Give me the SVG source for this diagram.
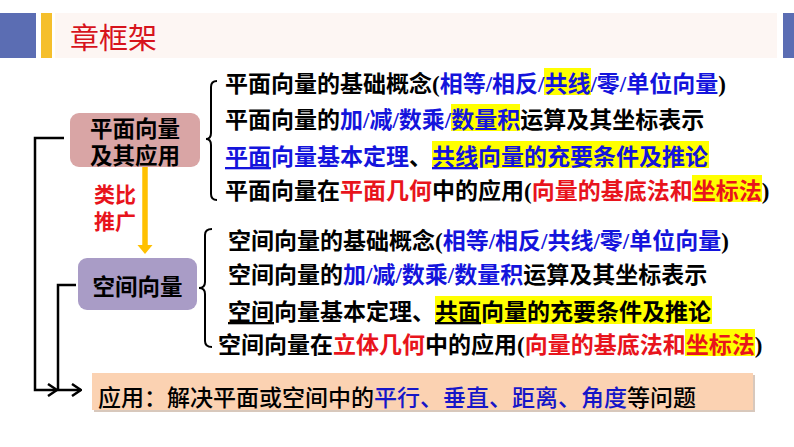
<svg xmlns="http://www.w3.org/2000/svg" width="794" height="447" viewBox="0 0 794 447">
<style>
.t{font-family:"Liberation Serif","Noto Sans CJK SC",serif;font-size:23px;font-weight:bold;fill:#000}
.bt{font-family:"Liberation Serif","Noto Sans CJK SC",serif;font-size:23px;font-weight:500;fill:#000}
.b{fill:#1414dc}
.r{fill:#e8141c}
.hl{fill:#ffff00}
.n{font-family:"Noto Sans CJK SC",sans-serif;font-size:22.5px;font-weight:bold;fill:#000;text-anchor:middle}
.lb{font-family:"Noto Sans CJK SC",sans-serif;font-size:21px;font-weight:bold;fill:#e8141c}
.ln{fill:none;stroke:#000;stroke-width:2.5}
.br{fill:none;stroke:#000;stroke-width:2}
.hd{fill:#5b6db3}
</style>
<defs>
<marker id="ah" viewBox="0 0 12 14" refX="11" refY="7" markerWidth="12" markerHeight="14" markerUnits="userSpaceOnUse" orient="auto">
<path d="M2,1 L11,7 L2,13" fill="none" stroke="#000" stroke-width="2.5"/>
</marker>
</defs>
<g id="header">
<rect class="hd" x="0" y="13" width="36" height="45"/>
<rect x="41" y="13" width="11" height="45" fill="#f5bf2c"/>
<rect x="55" y="13" width="722" height="45" fill="#fdf6f3"/>
<rect class="hd" x="783" y="13" width="11" height="45"/>
<text x="70" y="49" font-family="Noto Sans CJK SC, sans-serif" font-size="29" fill="#d7141c">章框架</text>
</g>
<g id="connectors">
<path class="ln" d="M64,138 H35 V390 H57" marker-end="url(#ah)"/>
<path class="ln" d="M76,285 H58 V390 H81" marker-end="url(#ah)"/>
<path class="br" d="M217,81 Q211,81 211,87 V133 Q211,139 206,139 Q211,139 211,145 V194 Q211,200 217,200"/>
<path class="br" d="M212,229 Q205,229 205,235 V282 Q205,288 199,288 Q205,288 205,294 V341 Q205,347 212,347"/>
<line x1="145" y1="167" x2="145" y2="246" stroke="#ffc000" stroke-width="5.5"/>
<polygon points="137.5,245 152.5,245 145,254" fill="#ffc000"/>
</g>
<g id="node-plane">
<rect x="70" y="113" width="130" height="54" rx="9" fill="#d9a5a5"/>
<text class="n" x="135" y="136.5">平面向量<tspan x="135" dy="27">及其应用</tspan></text>
</g>
<g id="label-analogy">
<text class="lb" x="94" y="202">类比<tspan x="94" dy="27">推广</tspan></text>
</g>
<g id="node-space">
<rect x="78" y="258" width="119" height="52" rx="9" fill="#a99cc6"/>
<text class="n" x="137.5" y="295">空间向量</text>
</g>
<g id="plane-items">
<rect class="hl" x="544" y="68" width="47" height="27"/>
<rect class="hl" x="451" y="104" width="69" height="27"/>
<rect class="hl" x="432" y="141" width="277" height="27"/>
<rect class="hl" x="692" y="175" width="70" height="27"/>
<text class="t" x="225" y="92">平面向量的基础概念(<tspan class="b">相等/相反/共线/零/单位向量</tspan>)</text>
<text class="t" x="225" y="128">平面向量的<tspan class="b">加/减/数乘/数量积</tspan>运算及其坐标表示</text>
<text class="t" x="225" y="165"><tspan class="b" text-decoration="underline">平面</tspan><tspan class="b">向量基本定理</tspan>、<tspan class="b" text-decoration="underline">共线</tspan><tspan class="b">向量的充要条件及推论</tspan></text>
<text class="t" x="225" y="199">平面向量在<tspan class="r">平面几何</tspan>中的应用(<tspan class="r">向量的基底法和坐标法</tspan>)</text>
</g>
<g id="space-items">
<rect class="hl" x="435" y="296" width="277" height="28"/>
<rect class="hl" x="685" y="329" width="70" height="27"/>
<text class="t" x="228" y="249">空间向量的基础概念(<tspan class="b">相等/相反/共线/零/单位向量</tspan>)</text>
<text class="t" x="228" y="283">空间向量的<tspan class="b">加/减/数乘/数量积</tspan>运算及其坐标表示</text>
<text class="t" x="228" y="320"><tspan text-decoration="underline">空间</tspan>向量基本定理、<tspan text-decoration="underline">共面</tspan>向量的充要条件及推论</text>
<text class="t" x="218" y="353">空间向量在<tspan class="r">立体几何</tspan>中的应用(<tspan class="r">向量的基底法和坐标法</tspan>)</text>
</g>
<g id="node-application">
<rect x="94" y="375" width="661" height="37" fill="#d8c8bc"/>
<rect x="92" y="373" width="661" height="37" fill="#fbd2b2"/>
<text class="bt" x="98" y="405.5">应用：解决平面或空间中的<tspan fill="#1616c8">平行、垂直、距离、角度</tspan>等问题</text>
</g>
</svg>
